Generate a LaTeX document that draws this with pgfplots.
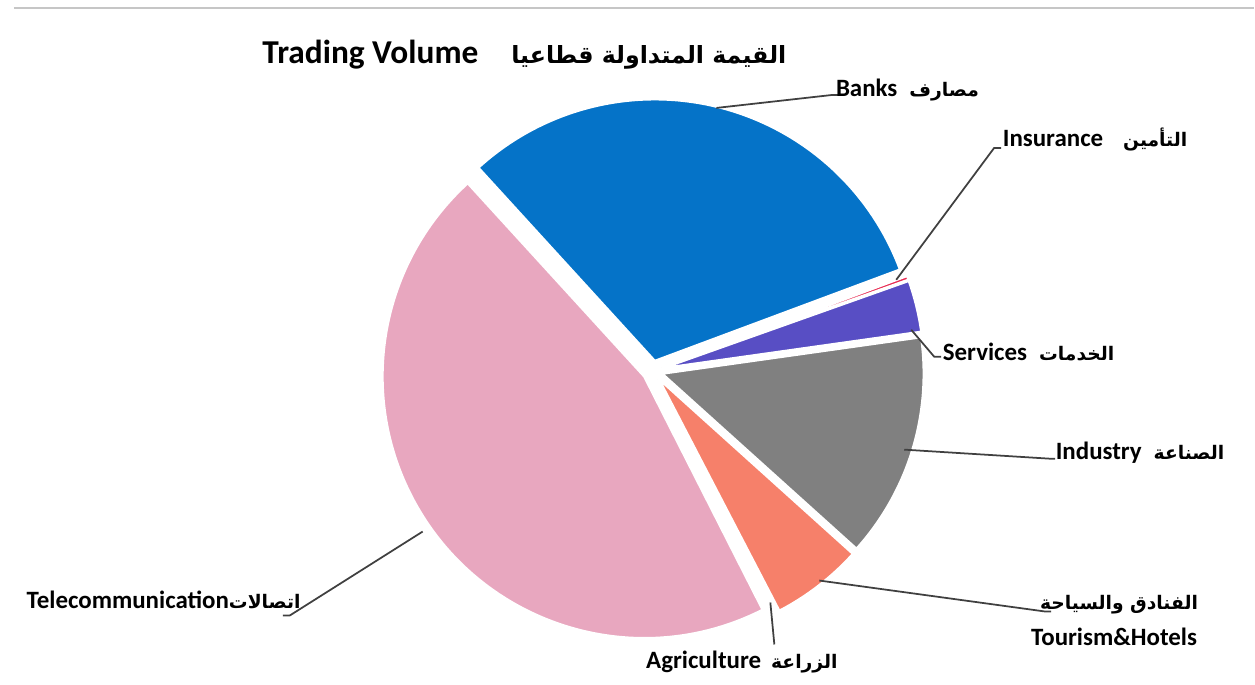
\documentclass[border=0pt]{standalone}
\usepackage{pgfplots}
\usepackage{pgfplotstable}
\pgfplotsset{compat=1.18}
\usetikzlibrary{calc}
\usepackage{fontspec}
\setmainfont{Carlito}
\newfontfamily\arabicfont[Script=Arabic, Scale=0.75]{DejaVu Sans}
\newfontfamily\arabictitle[Script=Arabic, Scale=0.71]{DejaVu Sans}
\TeXXeTstate=1
\definecolor{cBanks}{RGB}{5,115,200}
\definecolor{cIns}{RGB}{232,40,80}
\definecolor{cServ}{RGB}{88,78,196}
\definecolor{cInd}{RGB}{128,128,128}
\definecolor{cTour}{RGB}{246,128,106}
\definecolor{cAgri}{RGB}{100,200,205}
\definecolor{cTel}{RGB}{232,167,191}
\pgfplotstableread{
value color
31.1 cBanks
0.25 cIns
3.2 cServ
13.9 cInd
5.7 cTour
0.15 cAgri
45.7 cTel
}\sectors
\begin{document}
\begin{tikzpicture}
\begin{axis}[hide axis, scale only axis, width=12.55cm, height=6.85cm,
  xmin=0, xmax=1255, ymin=0, ymax=685, y dir=reverse, clip=false]
\path (axis cs:0,0) (axis cs:1255,685);
\draw[gray!45, line width=0.6pt] (axis cs:14,8) -- (axis cs:1255,8);
\pgfmathsetmacro{\cur}{132.4}
\pgfplotsforeachungrouped \i in {0,...,6}{%
  \pgfplotstablegetelem{\i}{value}\of\sectors \let\v\pgfplotsretval
  \pgfplotstablegetelem{\i}{color}\of\sectors \let\c\pgfplotsretval
  \pgfmathsetmacro\nxt{\cur-3.6*\v}%
  \pgfmathsetmacro\mid{(\cur+\nxt)/2}%
  \edef\temp{\noexpand\fill[\c, draw=white, line width=0.7pt] ($(axis cs:653,371)+(\mid:0.1cm)$) -- ++(\cur:2.62cm) arc[start angle=\cur, end angle=\nxt, radius=2.62cm] -- cycle;}%
  \temp
  \global\let\cur\nxt
}
% leader lines
\draw[black!75, line width=0.5pt] (axis cs:717,108) -- (axis cs:833,95) -- (axis cs:840,95);
\draw[black!75, line width=0.5pt] (axis cs:897,280) -- (axis cs:995,148) -- (axis cs:1002,148);
\draw[black!75, line width=0.5pt] (axis cs:912,330) -- (axis cs:935,357) -- (axis cs:942,357);
\draw[black!75, line width=0.5pt] (axis cs:905,450) -- (axis cs:1050,459) -- (axis cs:1056,459);
\draw[black!75, line width=0.5pt] (axis cs:820,581) -- (axis cs:1046,612) -- (axis cs:1052,612);
\draw[black!75, line width=0.5pt] (axis cs:771,603) -- (axis cs:775,645);
\draw[black!75, line width=0.5pt] (axis cs:423,532) -- (axis cs:290,616) -- (axis cs:283,616);
% title
\node[anchor=west, inner sep=0pt, font=\fontsize{9.5}{11}\selectfont\bfseries] at (axis cs:262,55)
  {Trading Volume\hspace{0.33cm}{\arabictitle\beginR القيمة المتداولة قطاعيا\endR}};
% labels
\tikzset{lab/.style={anchor=west, inner sep=0pt, font=\fontsize{7.1}{8}\selectfont\bfseries}}
\node[lab] at (axis cs:836,90) {Banks\hspace{0.12cm}{\arabicfont\beginR مصارف\endR}};
\node[lab] at (axis cs:1003,140) {Insurance\hspace{0.2cm}{\arabicfont\beginR التأمين\endR}};
\node[lab] at (axis cs:943,352) {Services\hspace{0.12cm}{\arabicfont\beginR الخدمات\endR}};
\node[lab] at (axis cs:1056,453) {Industry\hspace{0.12cm}{\arabicfont\beginR الصناعة\endR}};
\node[lab, anchor=center] at (axis cs:1120,605) {{\arabicfont\beginR الفنادق والسياحة\endR}};
\node[lab, anchor=center] at (axis cs:1115,637) {Tourism\&Hotels};
\node[lab] at (axis cs:646,663) {Agriculture\hspace{0.1cm}{\arabicfont\beginR الزراعة\endR}};
\node[lab] at (axis cs:26,600) {Telecommunication{\arabicfont\beginR اتصالات\endR}};
\end{axis}
\end{tikzpicture}
\end{document}
